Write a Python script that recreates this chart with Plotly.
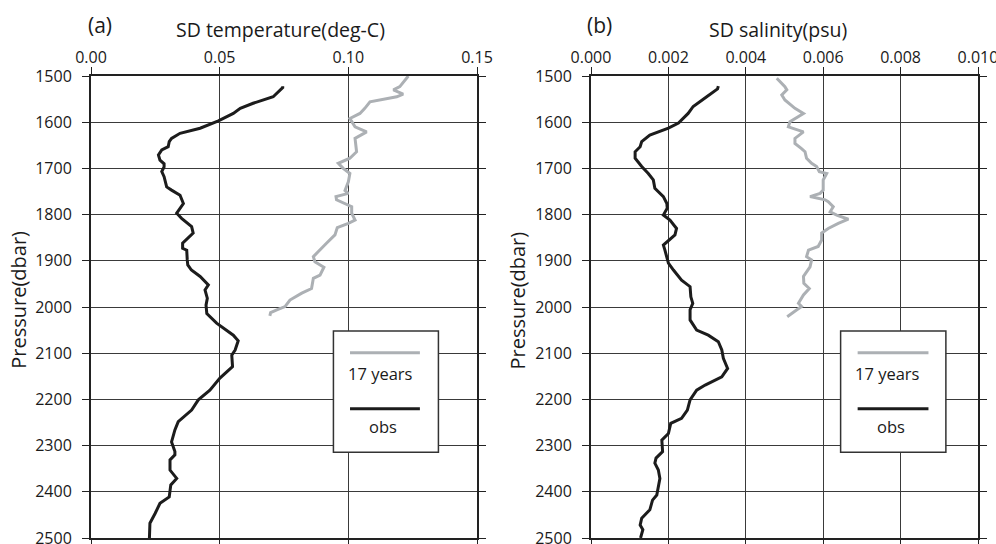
import plotly.graph_objects as go
from plotly.subplots import make_subplots

# ---- data ----
obs_a_p = [1522,1525,1545,1559,1570,1581,1597,1613,1624,1635,1642,1653,1660,1671,1682,1690,1697,1707,1718,1740,
           1747,1758,1776,1797,1808,1826,1840,1851,1862,1873,1877,1898,1909,1920,1934,1952,1963,1981,1996,2014,
           2035,2061,2073,2093,2104,2129,2154,2180,2201,2223,2248,2266,2292,2313,2320,2331,2353,2371,2385,2411,
           2425,2447,2468,2500]
obs_a_v = [0.0745,0.0745,0.0708,0.063,0.058,0.0553,0.0495,0.0424,0.0346,0.0313,0.0304,0.030,0.0275,0.0262,0.0268,
           0.0284,0.0284,0.0275,0.0284,0.0294,0.0313,0.0346,0.0359,0.0333,0.0352,0.0391,0.0397,0.0378,0.0356,0.0356,
           0.0372,0.0374,0.0376,0.039,0.0424,0.0456,0.0443,0.0452,0.0447,0.045,0.0488,0.0553,0.0572,0.056,0.0547,
           0.055,0.0501,0.0462,0.0417,0.0391,0.0339,0.0326,0.0313,0.0326,0.0326,0.0307,0.0307,0.0333,0.031,0.0304,
           0.0268,0.0249,0.0229,0.0227]

yr_a_p = [1500,1523,1530,1539,1545,1556,1570,1581,1592,1610,1621,1635,1664,1678,1689,1700,1711,1729,1748,1754,
          1761,1768,1783,1797,1812,1819,1828,1844,1862,1880,1891,1902,1914,1931,1938,1960,1970,1985,1999,2006,
          2012,2019]
yr_a_v = [0.1233,0.12,0.1175,0.1213,0.1188,0.1084,0.1064,0.1045,0.1006,0.1026,0.1071,0.1026,0.1032,0.1006,0.0961,
          0.098,0.1006,0.1,0.0987,0.1,0.0952,0.0954,0.1013,0.1013,0.1026,0.1,0.0957,0.0948,0.0915,0.0883,
          0.0864,0.087,0.0905,0.089,0.0864,0.0857,0.0819,0.0773,0.0754,0.0722,0.0698,0.0695]

obs_b_p = [1522,1528,1545,1566,1581,1602,1613,1628,1642,1653,1664,1678,1696,1711,1725,1743,1761,1776,1786,1801,
           1812,1830,1844,1859,1866,1877,1905,1920,1942,1956,1978,1992,2006,2028,2050,2061,2075,2093,2111,2133,
           2151,2169,2180,2201,2223,2241,2252,2274,2288,2313,2327,2338,2353,2371,2407,2418,2439,2457,2472,2482,
           2500]
obs_b_v = [0.00329,0.00327,0.00299,0.00264,0.00251,0.00226,0.002,0.00152,0.00131,0.00127,0.00114,0.00114,0.00131,
           0.00148,0.00161,0.00165,0.00187,0.00196,0.00197,0.00187,0.00204,0.00221,0.00217,0.00196,0.00187,0.00191,
           0.002,0.00213,0.00234,0.00256,0.00258,0.00263,0.00256,0.00256,0.00273,0.00303,0.00329,0.00338,0.00342,
           0.00353,0.00338,0.00295,0.00273,0.00256,0.00249,0.00234,0.00206,0.002,0.00183,0.00185,0.00168,0.00165,
           0.00174,0.00178,0.0017,0.00159,0.00152,0.00131,0.00127,0.00134,0.00128]

yr_b_p = [1505,1523,1530,1541,1552,1570,1581,1599,1610,1617,1621,1635,1646,1657,1664,1678,1689,1696,1707,1711,
          1725,1747,1754,1761,1768,1772,1783,1794,1801,1810,1819,1830,1840,1855,1869,1877,1891,1898,1913,1934,
          1949,1960,1974,1992,1999,2006,2021]
yr_b_v = [0.0048,0.00501,0.00506,0.00493,0.00501,0.00527,0.00549,0.00514,0.0051,0.00532,0.00549,0.00527,0.00527,
          0.00544,0.00553,0.00557,0.0057,0.00583,0.0059,0.00609,0.006,0.006,0.00592,0.00566,0.00605,0.00613,
          0.00626,0.00618,0.00635,0.00665,0.00639,0.00613,0.00596,0.00596,0.00587,0.00562,0.00557,0.0057,0.00566,
          0.00549,0.0055,0.00564,0.00549,0.00536,0.00544,0.00532,0.00507]

series_names = ["17 years", "obs"]
panel_labels = ["(a)", "(b)"]
x_titles = ["SD temperature(deg-C)", "SD salinity(psu)"]
y_title = "Pressure(dbar)"

# ---- styles ----
GREY = "#acb0b4"
BLACK = "#1c1c1c"
FONT = "Open Sans, Noto Sans, sans-serif"
TXT = "#1a1a1a"

fig = make_subplots(rows=1, cols=2, horizontal_spacing=0.1285)

fig.add_trace(go.Scatter(x=yr_a_v, y=yr_a_p, mode="lines", name=series_names[0],
                         line=dict(color=GREY, width=3)), row=1, col=1)
fig.add_trace(go.Scatter(x=obs_a_v, y=obs_a_p, mode="lines", name=series_names[1],
                         line=dict(color=BLACK, width=3)), row=1, col=1)
fig.add_trace(go.Scatter(x=yr_b_v, y=yr_b_p, mode="lines", name=series_names[0],
                         line=dict(color=GREY, width=3)), row=1, col=2)
fig.add_trace(go.Scatter(x=obs_b_v, y=obs_b_p, mode="lines", name=series_names[1],
                         line=dict(color=BLACK, width=3)), row=1, col=2)

axis_common = dict(showgrid=True, gridcolor="#3a3a3a", gridwidth=1, automargin=False,
                   showline=True, linecolor="#222222", linewidth=2, mirror="ticks",
                   ticks="outside", ticklen=7, tickcolor="#222222", tickwidth=1,
                   ticklabeloverflow="allow",
                   tickfont=dict(family=FONT, size=16, color=TXT), zeroline=False)

fig.update_xaxes(axis_common)
fig.update_yaxes(axis_common)
fig.update_xaxes(domain=[0, 0.4352], range=[0, 0.15], dtick=0.05, tickformat=".2f",
                 side="top", ticklabelstandoff=-2, row=1, col=1)
fig.update_xaxes(domain=[0.5637, 1], range=[0, 0.010], dtick=0.002, tickformat=".3f",
                 side="top", ticklabelstandoff=-2, row=1, col=2)
fig.update_yaxes(range=[2500, 1500], dtick=100, ticklabelstandoff=7)

# ---- panel labels, axis titles, legend boxes ----
legend_geo = [dict(x0=0.628, x1=0.900, lx0=0.671, lx1=0.852, tx1=0.749, tx2=0.757, tx=0.49),
              dict(x0=0.645, x1=0.917, lx0=0.689, lx1=0.872, tx1=0.767, tx2=0.775, tx=0.483)]
for i in range(2):
    xr = "x domain" if i == 0 else "x2 domain"
    yr = "y domain" if i == 0 else "y2 domain"
    g = legend_geo[i]

    def ann(x, y, text, size, angle=0):
        fig.add_annotation(xref=xr, yref=yr, x=x, y=y, text=text, showarrow=False,
                           xanchor="center", yanchor="middle", textangle=angle,
                           font=dict(family=FONT, size=size, color=TXT))

    ann(0.023, 1.11, panel_labels[i], 21)
    ann(g["tx"], 1.1, x_titles[i], 19.5)
    ann(-0.19, 0.515, y_title, 20, -90)
    fig.add_shape(type="rect", xref=xr, yref=yr, x0=g["x0"], x1=g["x1"], y0=0.1855, y1=0.448,
                  line=dict(color="#333333", width=1.5), fillcolor="white", layer="above")
    fig.add_shape(type="line", xref=xr, yref=yr, x0=g["lx0"], x1=g["lx1"], y0=0.401, y1=0.401,
                  line=dict(color=GREY, width=3), layer="above")
    fig.add_shape(type="line", xref=xr, yref=yr, x0=g["lx0"], x1=g["lx1"], y0=0.280, y1=0.280,
                  line=dict(color=BLACK, width=3), layer="above")
    ann(g["tx1"], 0.357, series_names[0], 16.5)
    ann(g["tx2"], 0.241, series_names[1], 16.5)

fig.update_layout(width=996, height=544, margin=dict(l=91, r=18, t=76, b=6),
                  plot_bgcolor="white", paper_bgcolor="white", showlegend=False,
                  font=dict(family=FONT))

fig.write_html("out.html", config={"displayModeBar": False},
               post_script="document.body.style.margin='0';")
